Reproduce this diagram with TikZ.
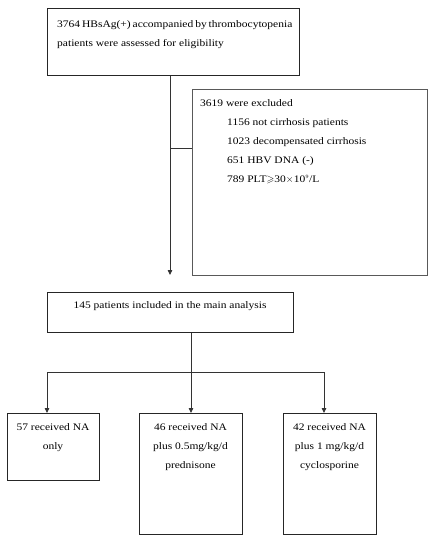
\documentclass[tikz,border=0pt]{standalone}
\usepackage{amssymb}
\usepackage{fontspec}
\setmainfont{Liberation Serif}[FakeStretch=1.15]
\usetikzlibrary{arrows.meta}

\tikzset{
  box/.style={draw=black!85,line width=0.8pt,anchor=north west,inner sep=0pt},
  txt/.style={font=\fontsize{10}{19}\selectfont,inner sep=0pt},
  link/.style={draw=black!80,line width=0.8pt},
  arr/.style={link,-{Triangle[length=5pt,width=4.5pt]}}
}

\begin{document}
\begin{tikzpicture}[x=1pt,y=-1pt]
            \useasboundingbox (0,0) rectangle (432,547);

            \node[box,minimum width=252,minimum height=67] (screen) at (47,8) {};
            \node[txt,anchor=north west,align=left] (screentext) at (57,20)
              {\makebox[233pt][s]{3764 HBsAg(+) accompanied by thrombocytopenia}\\
               patients were assessed for eligibility};

            \node[box,draw=black!65,minimum width=235,minimum height=186] (excl) at (192,89) {};
            \node[txt,anchor=north west,align=left] (excltext) at (200,99)
              {3619 were excluded\\
               \hspace{27pt}1156 not cirrhosis patients\\
               \hspace{27pt}1023 decompensated cirrhosis\\
               \hspace{27pt}651 HBV DNA (-)\\
               \hspace{27pt}789 PLT$\geqslant$30$\times$10$^{\scriptscriptstyle 9}$/L};

            \node[box,minimum width=246,minimum height=40] (main) at (47,292) {};
            \node[txt,anchor=north] (maintext) at (170,301) {145 patients included in the main analysis};

            \node[box,minimum width=92,minimum height=67] (arm1) at (7,413) {};
            \node[box,minimum width=103,minimum height=121] (arm2) at (139,413) {};
            \node[box,minimum width=93,minimum height=121] (arm3) at (283,413) {};
            \node[txt,anchor=north,align=center] (arm1text) at (53,423) {57 received NA\\only};
            \node[txt,anchor=north,align=center] (arm2text) at (190.5,423) {46 received NA\\plus 0.5mg/kg/d\\prednisone};
            \node[txt,anchor=north,align=center] (arm3text) at (329.5,423) {42 received NA\\plus 1 mg/kg/d\\cyclosporine};

            % connectors
            \coordinate (split) at (170,148);
            \coordinate (drop) at (170,275);
            \draw[arr] (screen.south -| split) -- (drop);
            \draw[link] (split) -- (excl.west |- split);

            \coordinate (b1) at (47,372);
            \coordinate (b2) at (191,372);
            \coordinate (b3) at (324,372);
            \draw[link] (main.south -| b2) -- (b2);
            \draw[link] (b1) -- (b3);
            \foreach \i in {1,2,3}
              \draw[arr] (b\i) -- (arm\i.north -| b\i);
\end{tikzpicture}
\end{document}
